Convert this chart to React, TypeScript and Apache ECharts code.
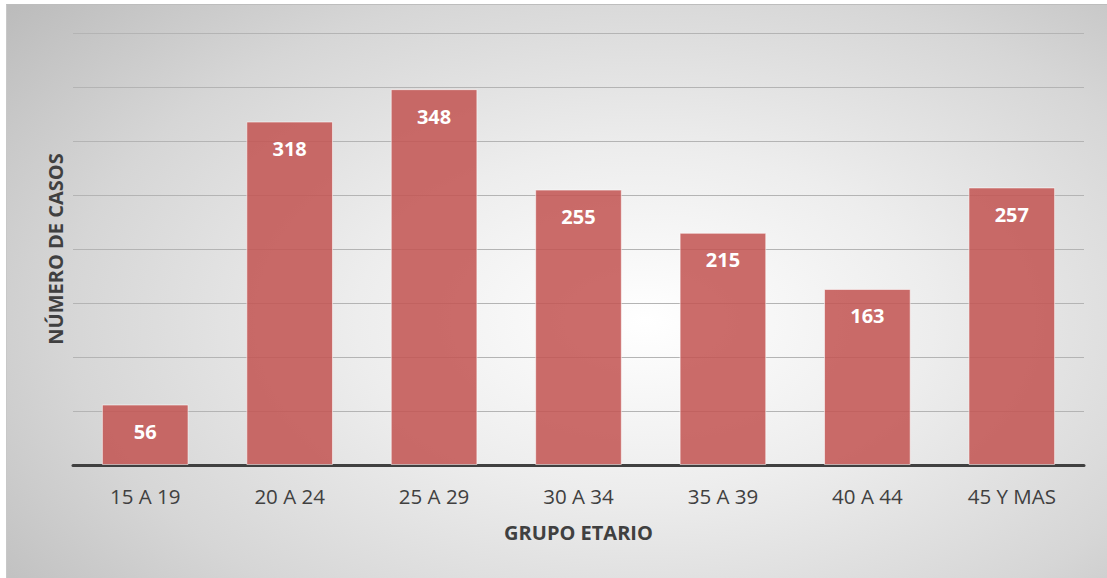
import React, { useEffect, useRef } from "react";
import * as echarts from "echarts";

const categories = ["15 A 19", "20 A 24", "25 A 29", "30 A 34", "35 A 39", "40 A 44", "45 Y MAS"];
const casos = [56, 318, 348, 255, 215, 163, 257];
const yMax = 400;
const yInterval = 50;

export default function App() {
  const ref = useRef<HTMLDivElement>(null);
  useEffect(() => {
    if (!ref.current) return;
    const chart = echarts.init(ref.current, null, { renderer: "svg" });
    chart.setOption({
      animation: false,
      backgroundColor: "transparent",
      textStyle: { fontFamily: "Open Sans" },
      grid: { left: 73, right: 23, top: 33, bottom: 113, containLabel: false },
      xAxis: {
        type: "category",
        data: categories,
        name: "GRUPO ETARIO",
        nameLocation: "middle",
        nameGap: 57,
        nameTextStyle: { fontFamily: "Open Sans", fontWeight: "bold", fontSize: 20, color: "#404040" },
        axisLine: { lineStyle: { color: "#404040", width: 3 } },
        axisTick: { show: false },
        axisLabel: { color: "#404040", fontSize: 20.5, margin: 20, fontFamily: "Open Sans" },
      },
      yAxis: {
        type: "value",
        min: 0,
        max: yMax,
        interval: yInterval,
        name: "NÚMERO DE CASOS",
        nameLocation: "middle",
        nameRotate: 90,
        nameGap: 8,
        nameTextStyle: { fontFamily: "Open Sans", fontWeight: "bold", fontSize: 20, color: "#404040" },
        axisLine: { show: false },
        axisTick: { show: false },
        axisLabel: { show: false },
        splitLine: { lineStyle: { color: "#b4b4b4", width: 1 } },
      },
      series: [
        {
          type: "bar",
          data: casos,
          barCategoryGap: "40%",
          itemStyle: {
            color: "rgba(194,84,81,0.86)",
            borderColor: "rgba(255,255,255,0.55)",
            borderWidth: 1,
          },
          label: {
            show: true,
            position: "insideTop",
            distance: 17,
            color: "#ffffff",
            fontWeight: "bold",
            fontSize: 20,
            fontFamily: "Open Sans",
          },
        },
      ],
    });
    return () => chart.dispose();
  }, []);
  return (
    <div style={{ position: "absolute", left: 0, top: 0, width: 1107, height: 578, background: "#ffffff" }}>
      <div
        style={{
          position: "absolute",
          left: 6,
          top: 4,
          width: 1101,
          height: 574,
          borderTop: "1px solid #bdbdbd",
          borderLeft: "1px solid #c8c8c8",
          boxSizing: "border-box",
          background: "radial-gradient(ellipse 75% 85% at 58% 55%, #ffffff 0%, #ededed 35%, #d6d6d6 70%, #bcbcbc 100%)",
        }}
      />
      <div ref={ref} style={{ position: "absolute", left: 0, top: 0, width: 1107, height: 578 }} />
    </div>
  );
}
